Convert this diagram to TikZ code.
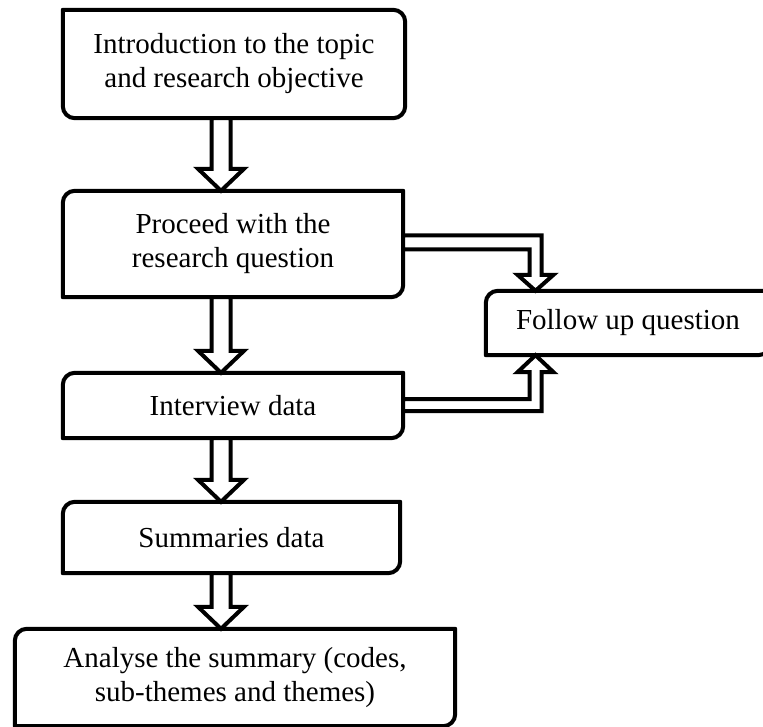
\documentclass[tikz,border=0pt]{standalone}
\usepackage{fontspec}
\setmainfont{Liberation Serif}
\usetikzlibrary{calc}
\tikzset{
  x=1pt, y=1pt,
  box/.style={draw=none, inner sep=0pt, align=center, font=\fontsize{29}{34}\selectfont},
  outline/.style={line width=4pt, line join=round},
  blk/.style={line width=4pt, fill=white, line join=miter, miter limit=10},
}
% #1 node, #2 TL, #3 TR, #4 BR, #5 BL radii
\newcommand\shapebox[5]{%
  \draw[outline] let \p1=(#1.north west), \p2=(#1.south east) in
    ({\x1+#2},\y1) -- ({\x2-#3},\y1) arc[start angle=90,end angle=0,radius=#3]
    -- (\x2,{\y2+#4}) arc[start angle=0,end angle=-90,radius=#4]
    -- ({\x1+#5},\y2) arc[start angle=-90,end angle=-180,radius=#5]
    -- (\x1,{\y1-#2}) arc[start angle=180,end angle=90,radius=#2] -- cycle;}
% vertical block arrow from #1.south to #2.north at x of (ax)
\newcommand\vblock[2]{%
  \draw[blk] let \p1=(ax |- #1.south), \p2=(ax |- #2.north) in
    ({\x1-9.5},\y1) -- ({\x1-9.5},{\y2+22}) -- ({\x1-23},{\y2+22}) -- (\x2,\y2)
    -- ({\x1+23},{\y2+22}) -- ({\x1+9.5},{\y2+22}) -- ({\x1+9.5},\y1) -- cycle;}
\begin{document}
\begin{tikzpicture}
\useasboundingbox (0,0) rectangle (763,-727);
\coordinate (ax) at (221,0);
\coordinate (fx) at (535.5,0);

\node[box, minimum width=342pt, minimum height=108pt] (T) at (234,-64) {Introduction to the topic\\and research objective};
\node[box, minimum width=340pt, minimum height=106pt] (P) at (233,-244) {Proceed with the\\research question};
\node[box, minimum width=340pt, minimum height=65pt] (I) at (233,-405.5) {Interview data};
\node[box, minimum width=337pt, minimum height=71pt] (S) at (231.5,-537.5) {Summaries data};
\node[box, minimum width=440pt, minimum height=97pt] (A) at (235,-677.5) {Analyse the summary (codes,\\sub-themes and themes)};
\node[box, minimum width=284pt, minimum height=64pt] (F) at (628,-323) {Follow up question};

\shapebox{T}{0.01}{12}{12}{12}
\shapebox{P}{12}{0.01}{12}{0.01}
\shapebox{I}{12}{0.01}{12}{0.01}
\shapebox{S}{12}{0.01}{12}{0.01}
\shapebox{A}{12}{0.01}{12}{0.01}
\shapebox{F}{12}{0.01}{12}{0.01}

\vblock{T}{P}
\vblock{P}{I}
\vblock{I}{S}
\vblock{S}{A}

\draw[blk] let \p1=(P.east), \p2=(fx |- F.north) in
  (\x1,{\y1+8.5}) -- ({\x2+6},{\y1+8.5}) -- ({\x2+6},{\y2+16}) -- ({\x2+18},{\y2+16})
  -- (\x2,\y2) -- ({\x2-18},{\y2+16}) -- ({\x2-6},{\y2+16}) -- ({\x2-6},{\y1-5.5})
  -- (\x1,{\y1-5.5}) -- cycle;
\draw[blk] let \p1=(I.east), \p2=(fx |- F.south) in
  (\x1,{\y1-5.5}) -- ({\x2+6},{\y1-5.5}) -- ({\x2+6},{\y2-17}) -- ({\x2+18},{\y2-17})
  -- (\x2,\y2) -- ({\x2-18},{\y2-17}) -- ({\x2-6},{\y2-17}) -- ({\x2-6},{\y1+6.5})
  -- (\x1,{\y1+6.5}) -- cycle;
\end{tikzpicture}
\end{document}
